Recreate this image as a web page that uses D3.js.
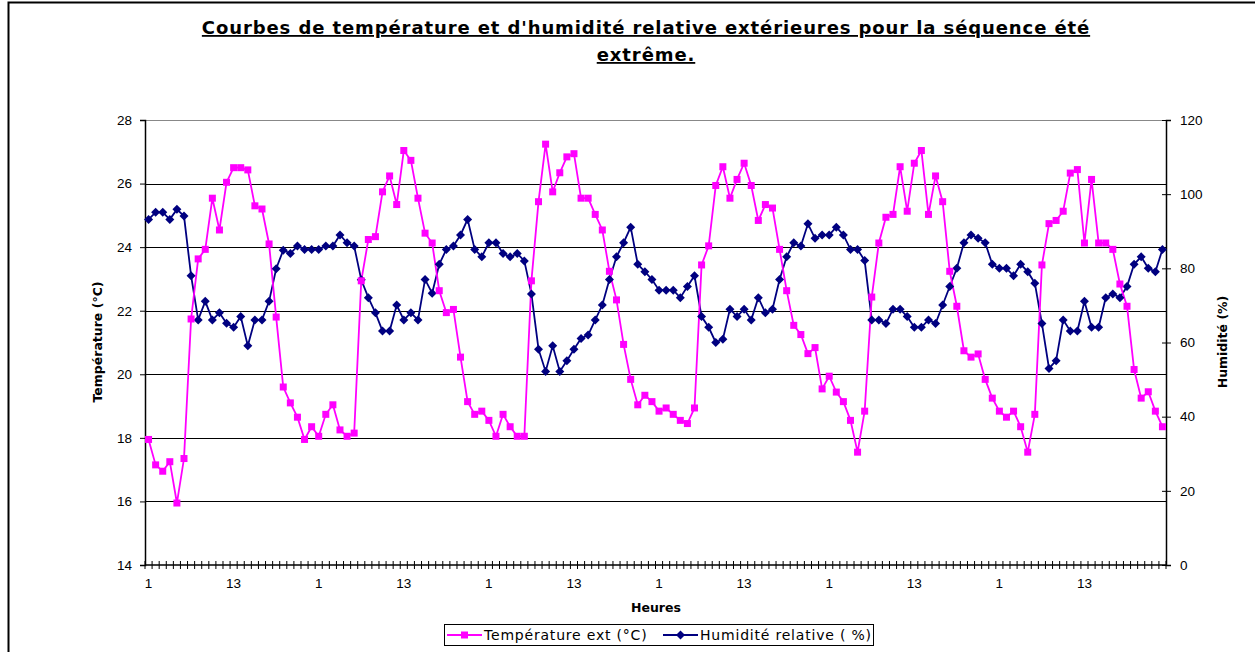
<!DOCTYPE html>
<html lang="fr">
<head>
<meta charset="utf-8"/>
<script src="https://d3js.org/d3.v7.min.js"></script>
<title>Courbes de température et d'humidité</title>
<style>
  body { margin: 0; background: #fff; }
  svg { display: block; }
  .tick text { font-family: "Liberation Sans", Arial, sans-serif; font-size: 13.5px; fill: #000; }
  .lbl { font-family: "DejaVu Sans", sans-serif; font-weight: bold; fill: #000; }
</style>
</head>
<body>
<svg id="chart"></svg>
<script>
  const width = 1255;
  const height = 652;
  const margin = {top: 120, right: 89, bottom: 87, left: 145};

  // heures (6 jours x 24 h)
  const hours = d3.range(144).map((i) => (i % 24) + 1);

  const temperature = [
    17.95, 17.15, 16.95, 17.25, 15.95, 17.35, 21.74, 23.63, 23.93, 25.54, 24.54, 26.04,
    26.5, 26.5, 26.43, 25.3, 25.2, 24.1, 21.8, 19.6, 19.1, 18.65, 17.95, 18.35,
    18.05, 18.74, 19.04, 18.25, 18.05, 18.15, 22.94, 24.24, 24.33, 25.74, 26.24, 25.34,
    27.04, 26.73, 25.54, 24.44, 24.13, 22.63, 21.94, 22.04, 20.54, 19.14, 18.74, 18.84,
    18.55, 18.05, 18.74, 18.35, 18.05, 18.05, 22.94, 25.43, 27.24, 25.74, 26.34, 26.84,
    26.94, 25.54, 25.54, 25.03, 24.54, 23.24, 22.34, 20.94, 19.84, 19.04, 19.34, 19.14,
    18.84, 18.94, 18.74, 18.55, 18.45, 18.94, 23.44, 24.04, 25.94, 26.53, 25.54, 26.13,
    26.64, 25.94, 24.84, 25.34, 25.23, 23.93, 22.63, 21.54, 21.25, 20.65, 20.84, 19.54,
    19.94, 19.44, 19.14, 18.55, 17.55, 18.84, 22.43, 24.13, 24.94, 25.03, 26.53, 25.13,
    26.64, 27.04, 25.03, 26.24, 25.43, 23.24, 22.14, 20.74, 20.54, 20.64, 19.84, 19.25,
    18.84, 18.65, 18.84, 18.35, 17.55, 18.74, 23.44, 24.74, 24.84, 25.13, 26.33, 26.44,
    24.13, 26.13, 24.13, 24.13, 23.93, 22.84, 22.14, 20.15, 19.25, 19.45, 18.84, 18.35
  ];

  const humidity = [
    93.2, 95.1, 95.1, 93.2, 95.9, 94.1, 78.0, 66.1, 71.1, 66.1, 68.0, 65.2,
    64.1, 67.0, 59.1, 66.1, 66.1, 71.1, 79.9, 84.9, 84.0, 86.0, 85.1, 85.1,
    85.1, 86.0, 86.0, 89.0, 86.9, 86.0, 76.9, 72.1, 68.0, 63.1, 63.1, 70.1,
    66.1, 68.0, 66.1, 77.0, 73.3, 81.1, 85.1, 86.0, 89.0, 93.2, 85.1, 83.1,
    86.9, 86.9, 84.0, 83.1, 84.0, 82.0, 73.1, 58.2, 52.2, 59.1, 52.2, 55.1,
    58.2, 61.1, 62.0, 66.1, 70.1, 77.0, 83.1, 86.9, 91.1, 81.1, 79.1, 77.0,
    74.1, 74.1, 74.1, 72.1, 75.1, 78.0, 67.0, 64.1, 60.0, 60.9, 69.0, 67.0,
    69.0, 66.1, 72.1, 68.0, 69.0, 77.0, 83.1, 86.9, 86.0, 92.0, 88.1, 89.0,
    89.0, 91.1, 89.0, 85.1, 85.1, 82.1, 66.1, 66.1, 65.1, 69.0, 69.0, 67.0,
    64.1, 64.1, 66.1, 65.1, 70.1, 75.1, 80.0, 86.9, 89.0, 88.1, 86.9, 81.1,
    80.0, 80.0, 78.0, 81.1, 79.1, 76.0, 65.1, 53.0, 55.1, 66.1, 63.1, 63.1,
    71.1, 64.1, 64.1, 72.1, 73.1, 72.1, 75.1, 81.1, 83.1, 80.0, 79.1, 85.1
  ];

  const tempTicks = [14, 16, 18, 20, 22, 24, 26, 28];
  const humTicks = [0, 20, 40, 60, 80, 100, 120];

  const svg = d3.select("#chart")
    .attr("width", width)
    .attr("height", height);

  // cadre extérieur
  svg.append("rect")
    .attr("x", 8.5).attr("y", 2.5)
    .attr("width", 1260).attr("height", 700)
    .attr("fill", "none").attr("stroke", "#000").attr("stroke-width", 2);

  const idx = d3.range(hours.length);
  const x = d3.scaleBand()
    .domain(idx)
    .range([margin.left, width - margin.right]);
  const cx = (i) => x(i) + x.bandwidth() / 2;

  const yT = d3.scaleLinear().domain([14, 28]).range([height - margin.bottom, margin.top]);
  const yH = d3.scaleLinear().domain([0, 120]).range([height - margin.bottom, margin.top]);

  // quadrillage
  svg.append("g")
    .selectAll("line")
    .data(tempTicks.slice(1))
    .join("line")
      .attr("x1", margin.left).attr("x2", width - margin.right)
      .attr("y1", (d) => Math.round(yT(d)) + 0.5)
      .attr("y2", (d) => Math.round(yT(d)) + 0.5)
      .attr("stroke", (d) => d === 28 ? "#888" : "#000")
      .attr("stroke-width", 1);

  // axe gauche
  const axL = svg.append("g")
    .attr("transform", "translate(" + margin.left + ",0)")
    .call(d3.axisLeft(yT).tickValues(tempTicks).tickSize(5).tickPadding(8));
  axL.select(".domain").attr("stroke-width", 1.5);

  // axe droit
  const axR = svg.append("g")
    .attr("transform", "translate(" + (width - margin.right) + ",0)")
    .call(d3.axisRight(yH).tickValues(humTicks).tickSize(5).tickPadding(9));
  axR.select(".domain").attr("stroke-width", 1.5);
  axR.selectAll(".tick line").attr("x1", -4);

  // axe du bas : une graduation par heure
  const axB = svg.append("g")
    .attr("transform", "translate(0," + (height - margin.bottom) + ")");
  axB.append("line")
    .attr("x1", margin.left).attr("x2", width - margin.right)
    .attr("stroke", "#000").attr("stroke-width", 1.5);
  axB.selectAll(".hb")
    .data(idx.concat([hours.length]))
    .join("line")
      .attr("class", "hb")
      .attr("x1", (i) => i < hours.length ? x(i) : width - margin.right)
      .attr("x2", (i) => i < hours.length ? x(i) : width - margin.right)
      .attr("y1", -4).attr("y2", 4)
      .attr("stroke", "#000");
  axB.selectAll("text")
    .data(idx.filter((i) => i % 12 === 0))
    .join("text")
      .attr("class", "tick")
      .attr("x", (i) => cx(i))
      .attr("y", 23)
      .attr("text-anchor", "middle")
      .style("font-family", "Liberation Sans, Arial, sans-serif")
      .style("font-size", "13.5px")
      .text((i) => hours[i]);

  // courbes
  const lineT = d3.line().x((d, i) => cx(i)).y((d) => yT(d));
  const lineH = d3.line().x((d, i) => cx(i)).y((d) => yH(d));

  svg.append("path")
    .datum(humidity)
    .attr("d", lineH)
    .attr("fill", "none").attr("stroke", "#000080").attr("stroke-width", 1.8);

  svg.append("path")
    .datum(temperature)
    .attr("d", lineT)
    .attr("fill", "none").attr("stroke", "#ff00ff").attr("stroke-width", 1.8);

  svg.append("g")
    .selectAll("path")
    .data(humidity)
    .join("path")
      .attr("transform", (d, i) => "translate(" + cx(i) + "," + yH(d) + ")")
      .attr("d", "M0,-4.5L4.5,0L0,4.5L-4.5,0Z")
      .attr("fill", "#000080");

  svg.append("g")
    .selectAll("rect")
    .data(temperature)
    .join("rect")
      .attr("x", (d, i) => cx(i) - 3.5)
      .attr("y", (d) => yT(d) - 3.5)
      .attr("width", 7).attr("height", 7)
      .attr("fill", "#ff00ff");

  // titres
  const title = svg.append("text")
    .attr("class", "lbl")
    .attr("text-anchor", "middle")
    .attr("text-decoration", "underline")
    .style("font-size", "18px")
    .style("letter-spacing", "0.9px");
  title.append("tspan").attr("x", 646).attr("y", 34)
    .text("Courbes de température et d'humidité relative extérieures pour la séquence été");
  title.append("tspan").attr("x", 646).attr("y", 61).text("extrême.");

  svg.append("text")
    .attr("class", "lbl")
    .attr("text-anchor", "middle")
    .attr("transform", "translate(102,342) rotate(-90)")
    .style("font-size", "12.5px")
    .text("Température (°C)");

  svg.append("text")
    .attr("class", "lbl")
    .attr("text-anchor", "middle")
    .attr("transform", "translate(1227,342) rotate(-90)")
    .style("font-size", "12.5px")
    .text("Humidité (%)");

  svg.append("text")
    .attr("class", "lbl")
    .attr("text-anchor", "middle")
    .attr("x", 656).attr("y", 612)
    .style("font-size", "12.5px")
    .text("Heures");

  // légende
  const legend = svg.append("g").attr("transform", "translate(444,624)");
  legend.append("rect")
    .attr("x", 0.5).attr("y", 0.5).attr("width", 429).attr("height", 21)
    .attr("fill", "#fff").attr("stroke", "#000");
  const items = [
    {label: "Température ext (°C)", color: "#ff00ff", shape: "square", x: 3},
    {label: "Humidité relative ( %)", color: "#000080", shape: "diamond", x: 219}
  ];
  items.forEach((it) => {
    const g = legend.append("g").attr("transform", "translate(" + it.x + ",11)");
    g.append("line").attr("x1", 0).attr("x2", 35)
      .attr("stroke", it.color).attr("stroke-width", 1.8);
    if (it.shape === "square") {
      g.append("rect").attr("x", 14).attr("y", -3.5).attr("width", 7).attr("height", 7)
        .attr("fill", it.color);
    } else {
      g.append("path").attr("transform", "translate(17.5,0)")
        .attr("d", "M0,-4.5L4.5,0L0,4.5L-4.5,0Z").attr("fill", it.color);
    }
    g.append("text")
      .attr("x", 37).attr("y", 5)
      .style("font-family", "DejaVu Sans, sans-serif")
      .style("font-size", "14px")
      .style("letter-spacing", "0.8px")
      .text(it.label);
  });
</script>
</body>
</html>
